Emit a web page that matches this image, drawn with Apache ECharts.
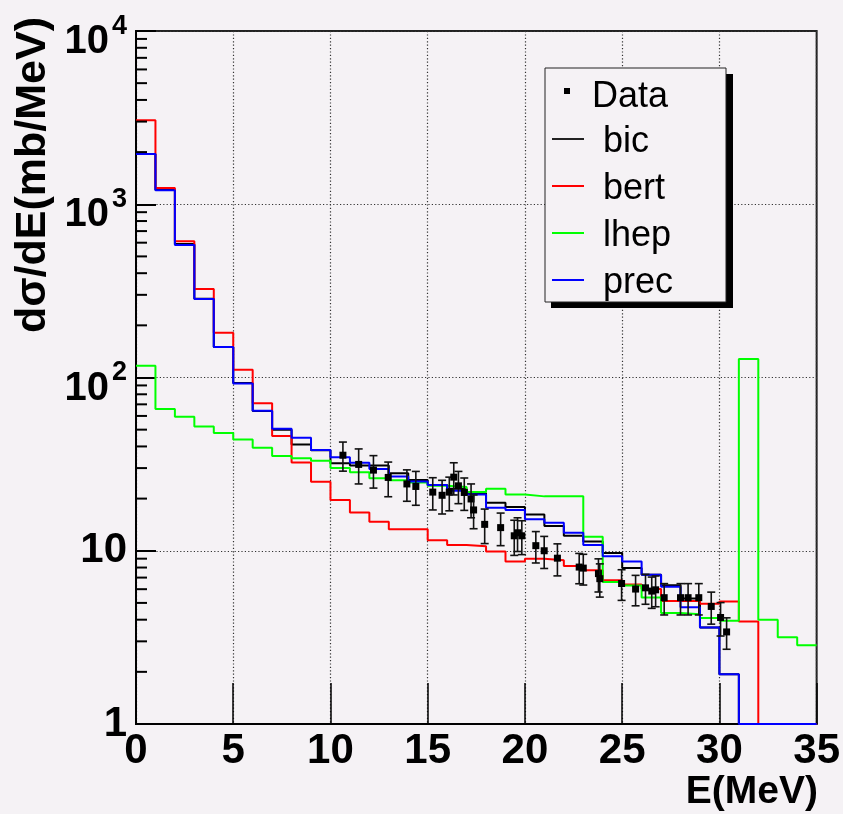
<!DOCTYPE html>
<html>
<head>
<meta charset="utf-8">
<script src="https://cdn.jsdelivr.net/npm/echarts@6/dist/echarts.min.js"></script>
<style>
  html, body { margin: 0; padding: 0; background: #f5f2f5; }
  #chart { width: 843px; height: 814px; }
</style>
</head>
<body>
<div id="chart"></div>
<script>
// Energy bin edges (MeV), 1 MeV wide bins
const energyEdges = [0, 1, 2, 3, 4, 5, 6, 7, 8, 9, 10, 11, 12, 13, 14, 15, 16, 17, 18,
  19, 20, 21, 22, 23, 24, 25, 26, 27, 28, 29, 30, 31, 32, 33, 34, 35];

// Model predictions, dσ/dE (mb/MeV) per bin
const bicValues = [1950, 1210, 590, 285, 150, 93, 64, 50, 41, 38, 32, 31, 31, 28, 25.6,
  24, 22.8, 21.5, 18.9, 17.9, 16.2, 13.9, 12.2, 11.3, 9.7, 7.95, 7.28, 6.33, 5.3, 3.6,
  1.94, 0, 0, 0, 0];
const bertValues = [3050, 1240, 611, 324, 181, 111, 71, 46, 32.3, 25, 19.6, 16.6, 14.7,
  13.3, 13.3, 11.5, 10.8, 10.6, 9.9, 8.67, 9.0, 8.8, 8.16, 7.71, 6.76, 6.38, 6.01, 5.13,
  5.13, 4.94, 5.09, 3.91, 0, 0, 0];
const lhepValues = [117, 65.7, 59.4, 52.1, 47.8, 43.8, 39.3, 35.2, 34.2, 33.1, 30, 28.4,
  26.2, 25.5, 24.8, 23.7, 23.3, 21.8, 22.8, 21.1, 20.6, 20.6, 20.6, 12.05, 6.6, 6.3, 5.38,
  4.37, 4.3, 4.09, 3.95, 128, 4.0, 3.17, 2.85];
const precValues = [1950, 1205, 582, 284, 150, 92.4, 64.3, 50.6, 44.9, 38.2, 34.6, 32.2,
  29.6, 26.8, 25.1, 24.0, 22.2, 21.1, 17.7, 17.2, 15.2, 14.5, 12.7, 10.8, 9.3, 8.67, 7.28,
  6.2, 4.72, 3.6, 1.94, 0, 0, 0, 0];

// Measured points: energy (MeV), dσ/dE (mb/MeV), error
const dataEnergy = [10.64, 11.45, 12.21, 12.97, 13.93, 14.39, 15.26, 15.74, 16.11, 16.34,
  16.58, 16.88, 17.23, 17.36, 17.93, 18.75, 19.45, 19.62, 19.84, 20.56, 20.99, 21.67,
  22.79, 23.0, 23.78, 23.85, 24.97, 25.69, 26.2, 26.52, 26.72, 27.16, 28.0, 28.39, 28.94,
  29.58, 30.06, 30.37];
const dataXsec = [35.6, 31.5, 29.2, 26.5, 24.3, 23.5, 21.8, 20.9, 21.8, 26.6, 23.7, 21.7,
  19.9, 17.2, 14.2, 13.6, 12.2, 12.7, 12.2, 10.7, 10.0, 9.06, 8.05, 7.94, 7.38, 6.9, 6.47,
  6.01, 6.11, 5.85, 5.95, 5.36, 5.36, 5.36, 5.36, 4.77, 4.12, 3.4];
const dataError = [6.8, 7.2, 6.2, 6.0, 5.0, 5.2, 4.6, 4.6, 4.8, 5.6, 5.0, 4.6, 4.4, 3.8,
  3.2, 2.9, 2.8, 2.8, 2.7, 2.2, 2.1, 1.9, 1.6, 1.6, 1.6, 1.5, 1.3, 1.2, 1.2, 1.2, 1.2, 1.1,
  1.1, 1.1, 1.1, 1.0, 0.9, 0.7];

// Axis tick labels
const xTickText = ['0', '5', '10', '15', '20', '25', '30', '35'];
const yTickValues = [1, 10, 100, 1000, 10000];
const yTickText = ['1', '10', '10^2', '10^3', '10^4'];

const seriesNames = ['bic', 'bert', 'lhep', 'prec'];
const seriesColors = ['#000000', '#ff0000', '#00ff00', '#0000ff'];
const seriesValues = [bicValues, bertValues, lhepValues, precValues];

const Y_MIN = 1, Y_MAX = 10000;
const BG = '#f5f2f5';
const SANS = '"Liberation Sans", Arial, sans-serif';

// Step outline of a histogram; empty bins rest on the frame floor
function histPoints(values) {
  const pts = values.map((v, i) => [energyEdges[i], v > 0 ? v : Y_MIN]);
  pts.push([energyEdges[values.length], pts[pts.length - 1][1]]);
  return pts;
}

// Log minor tick positions (2..9 per decade)
const minorTicks = [];
for (let d = 1; d < Y_MAX; d *= 10) {
  for (let m = 2; m <= 9; m++) minorTicks.push([0, m * d]);
}

const lineSeries = seriesNames.map((name, k) => ({
  name: name,
  type: 'line',
  step: 'end',
  symbol: 'none',
  data: histPoints(seriesValues[k]),
  lineStyle: { color: seriesColors[k], width: 2 },
  itemStyle: { color: seriesColors[k] },
  z: 3,
  animation: false
}));

const measured = dataEnergy.map((e, i) => [e, dataXsec[i], dataError[i]]);

const chart = echarts.init(document.getElementById('chart'), null, { renderer: 'canvas' });

const tickFont = { fontFamily: SANS, fontWeight: 'bold', color: '#000' };

const option = {
  backgroundColor: BG,
  animation: false,
  grid: {
    left: 136, right: 25, top: 22, bottom: 90,
    show: true, borderColor: '#222', borderWidth: 2, backgroundColor: 'transparent'
  },
  xAxis: {
    type: 'value', min: 0, max: 35, interval: 5,
    axisLine: { show: true, lineStyle: { color: '#000', width: 2 } },
    axisTick: { show: true, inside: true, length: 41, lineStyle: { color: '#000', width: 1.5 } },
    splitLine: { show: true, lineStyle: { color: '#333', width: 1.2, type: [1.2, 2.2] } },
    axisLabel: Object.assign({
      margin: 27, verticalAlign: 'middle', fontSize: 42,
      formatter: (v) => xTickText[Math.round(v / 5)]
    }, tickFont)
  },
  yAxis: {
    type: 'log', logBase: 10, min: Y_MIN, max: Y_MAX,
    axisLine: { show: true, lineStyle: { color: '#000', width: 2 } },
    axisTick: { show: true, inside: true, length: 20, lineStyle: { color: '#000', width: 2 } },
    splitLine: { show: true, lineStyle: { color: '#333', width: 1.2, type: [1.2, 2.2] } },
    axisLabel: Object.assign({
      margin: 9, align: 'right', verticalAlign: 'middle', fontSize: 42,
      formatter: (v) => {
        const idx = yTickValues.findIndex(t => Math.abs(t - v) < 1e-6 * t);
        const txt = idx >= 0 ? yTickText[idx] : '';
        if (txt.indexOf('^') >= 0) {
          const parts = txt.split('^');
          return '{b|' + parts[0] + '}{s|' + parts[1] + '}';
        }
        return '{p|' + txt + '}';
      },
      rich: {
        p: Object.assign({ fontSize: 42, lineHeight: 42 }, tickFont),
        b: Object.assign({ fontSize: 40, lineHeight: 62, verticalAlign: 'bottom' }, tickFont),
        s: Object.assign({ fontSize: 27, lineHeight: 27, padding: [13, 0, 0, 3],
                           verticalAlign: 'top' }, tickFont)
      }
    }, tickFont)
  },
  series: [
    {
      name: 'minor ticks',
      type: 'custom',
      silent: true,
      z: 6,
      data: minorTicks,
      encode: { x: 0, y: 1 },
      renderItem: (params, api) => {
        const p = api.coord([0, api.value(1)]);
        return {
          type: 'line',
          shape: { x1: p[0], y1: p[1], x2: p[0] + 11, y2: p[1] },
          style: { stroke: '#000', lineWidth: 2 }
        };
      }
    },
    ...lineSeries,
    {
      name: 'Data',
      type: 'custom',
      z: 5,
      data: measured,
      encode: { x: 0, y: 1 },
      renderItem: (params, api) => {
        const x = api.value(0), y = api.value(1), e = api.value(2);
        const c = api.coord([x, y]);
        const hi = api.coord([x, y + e]);
        const lo = api.coord([x, Math.max(y - e, Y_MIN)]);
        const ink = '#111';
        return {
          type: 'group',
          children: [
            { type: 'line', shape: { x1: c[0], y1: hi[1], x2: c[0], y2: lo[1] },
              style: { stroke: ink, lineWidth: 1.6 } },
            { type: 'line', shape: { x1: c[0] - 4, y1: hi[1], x2: c[0] + 4, y2: hi[1] },
              style: { stroke: ink, lineWidth: 1.6 } },
            { type: 'line', shape: { x1: c[0] - 4, y1: lo[1], x2: c[0] + 4, y2: lo[1] },
              style: { stroke: ink, lineWidth: 1.6 } },
            { type: 'rect', shape: { x: c[0] - 3.5, y: c[1] - 3.5, width: 7, height: 7 },
              style: { fill: '#000' } }
          ]
        };
      }
    }
  ],
  graphic: [
    // axis titles
    { type: 'text', x: 33, y: 17, rotation: Math.PI / 2, z: 100,
      style: { text: 'dσ/dE(mb/MeV)', font: 'bold 43px ' + SANS, fill: '#000',
               align: 'right', verticalAlign: 'middle' } },
    { type: 'text', x: 818, y: 792, z: 100,
      style: { text: 'E(MeV)', font: 'bold 39px ' + SANS, fill: '#000',
               align: 'right', verticalAlign: 'middle' } },
    // legend box with drop shadow
    { type: 'rect', z: 100, shape: { x: 551, y: 74, width: 182, height: 234 },
      style: { fill: '#000' } },
    { type: 'rect', z: 101, shape: { x: 545, y: 68, width: 181, height: 234 },
      style: { fill: BG, stroke: '#222', lineWidth: 1 } },
    { type: 'rect', z: 102, shape: { x: 564, y: 88, width: 6, height: 6 },
      style: { fill: '#000' } },
    { type: 'text', z: 102, x: 592, y: 97,
      style: { text: 'Data', font: '36px ' + SANS, fill: '#000', verticalAlign: 'middle' } },
    ...seriesNames.map((name, k) => ({
      type: 'group', z: 102,
      children: [
        { type: 'line', z: 102, shape: { x1: 552, y1: 139 + 47 * k, x2: 584, y2: 139 + 47 * k },
          style: { stroke: seriesColors[k] === '#000000' ? '#222' : seriesColors[k], lineWidth: 2 } },
        { type: 'text', z: 102, x: 603, y: 142 + 47 * k,
          style: { text: name, font: '36px ' + SANS, fill: '#000', verticalAlign: 'middle' } }
      ]
    }))
  ]
};

chart.setOption(option);
</script>
</body>
</html>
